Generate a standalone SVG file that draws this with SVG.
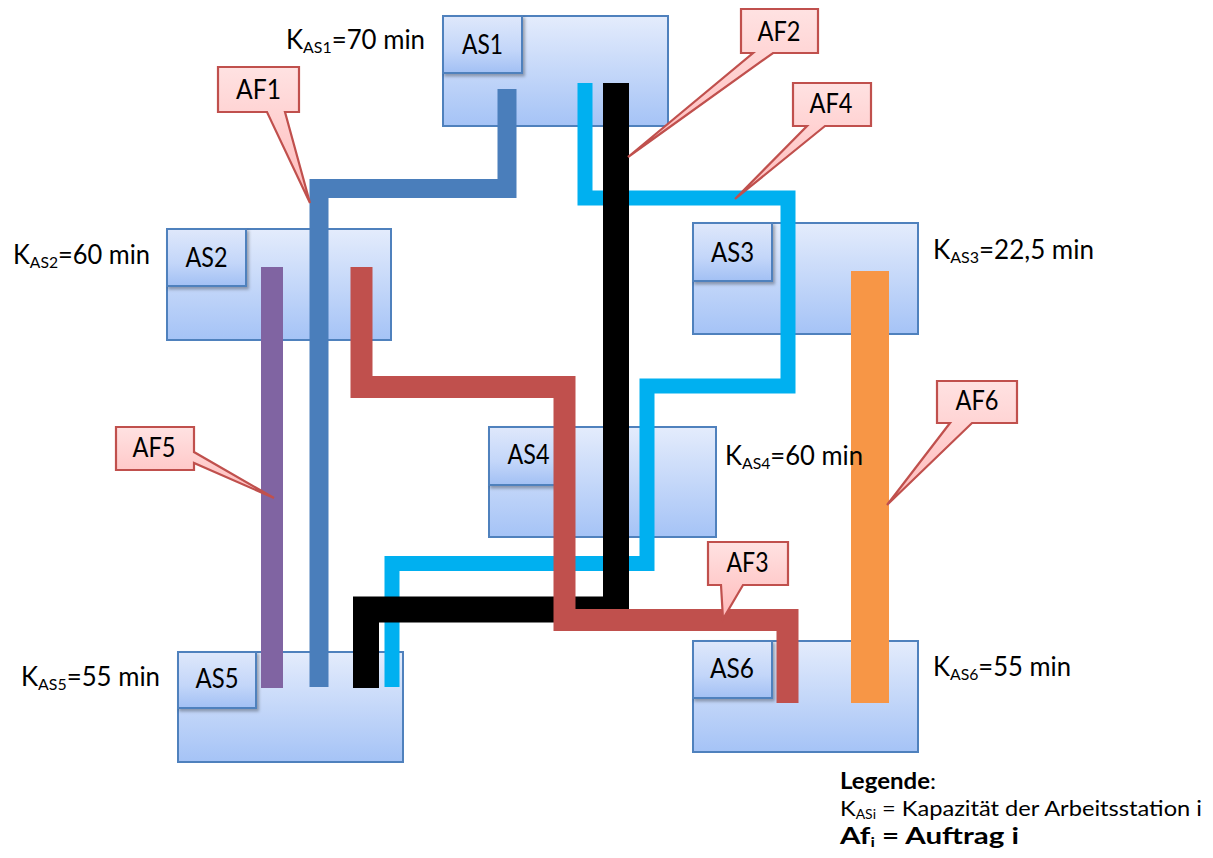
<svg xmlns="http://www.w3.org/2000/svg" width="1213" height="858" viewBox="0 0 1213 858">
<defs>
<linearGradient id="gBox" x1="0" y1="0" x2="0" y2="1">
<stop offset="0" stop-color="#E4ECFC"/>
<stop offset="1" stop-color="#A5C3F6"/>
</linearGradient>
<linearGradient id="gLab" x1="0" y1="0" x2="0" y2="1">
<stop offset="0" stop-color="#DFE8FB"/>
<stop offset="0.6" stop-color="#C3D6F9"/>
<stop offset="1" stop-color="#A2C0F4"/>
</linearGradient>
<linearGradient id="gCall" x1="0" y1="0" x2="0" y2="1">
<stop offset="0" stop-color="#FFE2E2"/>
<stop offset="1" stop-color="#FFB9B9"/>
</linearGradient>
<filter id="sh" x="-20%" y="-20%" width="150%" height="150%">
<feDropShadow dx="2" dy="2.5" stdDeviation="1.5" flood-color="#000" flood-opacity="0.3"/>
</filter>
</defs>
<style>
.box{fill:url(#gBox);stroke:#4F81BD;stroke-width:2}
.lab{fill:url(#gLab);stroke:#4F81BD;stroke-width:2;filter:url(#sh)}
.t{font-family:Lato,"Open Sans","Liberation Sans",sans-serif;fill:#000}
.lt{font-size:27px;text-anchor:middle}
.kt{font-size:26px}
.sub{font-size:16px}
.call{fill:url(#gCall);stroke:#C0504D;stroke-width:2.2;stroke-linejoin:miter}
.ct{font-size:26px;text-anchor:middle}
.ln{fill:none;stroke-linejoin:miter;stroke-linecap:butt;stroke-miterlimit:10}
</style>
<rect width="1213" height="858" fill="#FFFFFF"/>

<g id="AS1">
<rect class="box" x="443" y="16" width="225" height="110"/>
<rect class="lab" x="443" y="16" width="79" height="57"/>
<text class="t lt" x="482.5" y="54" textLength="41" lengthAdjust="spacingAndGlyphs">AS1</text>
<text class="t kt" x="286" y="49" textLength="139" lengthAdjust="spacingAndGlyphs">K<tspan class="sub" dy="4">AS1</tspan><tspan dy="-4">=70 min</tspan></text>
</g>
<g id="AS2">
<rect class="box" x="167" y="229" width="224" height="111"/>
<rect class="lab" x="167" y="229" width="79" height="57"/>
<text class="t lt" x="206.5" y="267" textLength="42" lengthAdjust="spacingAndGlyphs">AS2</text>
<text class="t kt" x="13" y="264" textLength="137" lengthAdjust="spacingAndGlyphs">K<tspan class="sub" dy="4">AS2</tspan><tspan dy="-4">=60 min</tspan></text>
</g>
<g id="AS3">
<rect class="box" x="693" y="223" width="225" height="111"/>
<rect class="lab" x="693" y="223" width="79" height="58"/>
<text class="t lt" x="732.5" y="262" textLength="43" lengthAdjust="spacingAndGlyphs">AS3</text>
<text class="t kt" x="933" y="259" textLength="161" lengthAdjust="spacingAndGlyphs">K<tspan class="sub" dy="4">AS3</tspan><tspan dy="-4">=22,5 min</tspan></text>
</g>
<g id="AS4">
<rect class="box" x="489" y="427" width="227" height="110"/>
<rect class="lab" x="489" y="427" width="79" height="58"/>
<text class="t lt" x="528.5" y="464" textLength="42" lengthAdjust="spacingAndGlyphs">AS4</text>
</g>
<g id="AS5">
<rect class="box" x="178" y="652" width="225" height="110"/>
<rect class="lab" x="178" y="652" width="78" height="56"/>
<text class="t lt" x="217" y="688" textLength="43" lengthAdjust="spacingAndGlyphs">AS5</text>
<text class="t kt" x="21" y="686" textLength="139" lengthAdjust="spacingAndGlyphs">K<tspan class="sub" dy="4">AS5</tspan><tspan dy="-4">=55 min</tspan></text>
</g>
<g id="AS6">
<rect class="box" x="693" y="641" width="225" height="111"/>
<rect class="lab" x="693" y="641" width="79" height="57"/>
<text class="t lt" x="732" y="678" textLength="44" lengthAdjust="spacingAndGlyphs">AS6</text>
<text class="t kt" x="933" y="676" textLength="138" lengthAdjust="spacingAndGlyphs">K<tspan class="sub" dy="4">AS6</tspan><tspan dy="-4">=55 min</tspan></text>
</g>

<g id="connectors">
<path id="AF4-line" class="ln" stroke="#00B0F0" stroke-width="15" d="M585,83 V198 H788 V386 H647 V563.5 H392 V687"/>
<path id="AF2-line" class="ln" stroke="#000000" stroke-width="26" d="M616,83 V609.5 H366 V688"/>
<path id="AF1-line" class="ln" stroke="#4A7EBB" stroke-width="19" d="M507,89 V188.5 H319 V687"/>
<path id="AF5-line" class="ln" stroke="#8064A2" stroke-width="22" d="M272,267 V688"/>
<path id="AF3-line" class="ln" stroke="#C0504D" stroke-width="22" d="M361.5,267 V387 H564.5 V620 H787.5 V703"/>
<path id="AF6-line" class="ln" stroke="#F79646" stroke-width="38" d="M870,271 V703"/>
</g>

<g id="AS4-capacity">
<text class="t kt" x="725" y="465" textLength="138" lengthAdjust="spacingAndGlyphs">K<tspan class="sub" dy="4">AS4</tspan><tspan dy="-4">=60 min</tspan></text>
</g>

<g id="AF1">
<path class="call" d="M218,67 H299 V112 H285 L310,203 L267,112 H218 Z"/>
<text class="t ct" x="258.5" y="99" textLength="45" lengthAdjust="spacingAndGlyphs">AF1</text>
</g>
<g id="AF2">
<path class="call" d="M741,9 H818 V53 H773 L628,157 L753,53 H741 Z"/>
<text class="t ct" x="779" y="41" textLength="43" lengthAdjust="spacingAndGlyphs">AF2</text>
</g>
<g id="AF4">
<path class="call" d="M793,83 H871 V126 H825 L735,199 L807,126 H793 Z"/>
<text class="t ct" x="831" y="113" textLength="43" lengthAdjust="spacingAndGlyphs">AF4</text>
</g>
<g id="AF5">
<path class="call" d="M116,427 H194 V452 L274,498 L194,463 V470 H116 Z"/>
<text class="t ct" x="154" y="457" textLength="43" lengthAdjust="spacingAndGlyphs">AF5</text>
</g>
<g id="AF3">
<path class="call" d="M708,542 H788 V585 H743 L723,619 L721,585 H708 Z"/>
<text class="t ct" x="747.5" y="572" textLength="42" lengthAdjust="spacingAndGlyphs">AF3</text>
</g>
<g id="AF6">
<path class="call" d="M937,381 H1017 V423 H972 L887,505 L950,423 H937 Z"/>
<text class="t ct" x="977" y="410" textLength="43" lengthAdjust="spacingAndGlyphs">AF6</text>
</g>

<g id="legend">
<text class="t" x="840" y="789" font-size="22" textLength="96" lengthAdjust="spacingAndGlyphs"><tspan font-weight="bold">Legende</tspan>:</text>
<text class="t" x="840" y="816" font-size="22" textLength="362" lengthAdjust="spacingAndGlyphs">K<tspan font-size="13" dy="3">ASi</tspan><tspan dy="-3"> = Kapazität der Arbeitsstation i</tspan></text>
<text class="t" x="840" y="844" font-size="22" font-weight="bold" textLength="179" lengthAdjust="spacingAndGlyphs">Af<tspan font-size="13" dy="3">i</tspan><tspan dy="-3"> = Auftrag i</tspan></text>
</g>
</svg>
